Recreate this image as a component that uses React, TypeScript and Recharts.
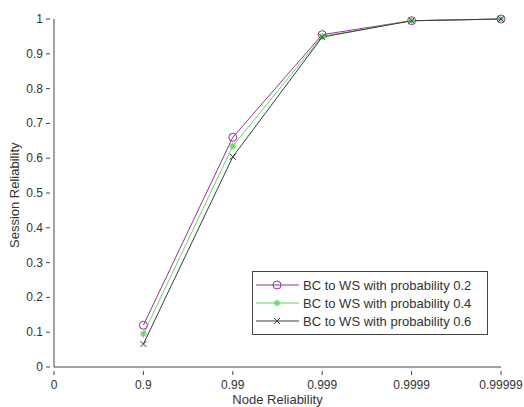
import React from 'react'
import { LineChart, Line, XAxis, YAxis } from 'recharts'

const xLabels = ['0', '0.9', '0.99', '0.999', '0.9999', '0.99999']
const xIndex = [1, 2, 3, 4, 5]
const prob02 = [0.12, 0.66, 0.955, 0.995, 1.0]
const prob04 = [0.095, 0.635, 0.95, 0.995, 1.0]
const prob06 = [0.066, 0.604, 0.948, 0.995, 1.0]
const yTicks = [0, 0.1, 0.2, 0.3, 0.4, 0.5, 0.6, 0.7, 0.8, 0.9, 1]

const data = xIndex.map((x, i) => ({ x, p02: prob02[i], p04: prob04[i], p06: prob06[i] }))

const font = '"Liberation Sans", Arial, sans-serif'
const textColor = '#333'
const C1 = '#9b2f95'
const C2 = '#5fd85f'
const C3 = '#3a3a48'

const CircleDot = (props: any) => {
  const { cx, cy } = props
  if (cx == null || cy == null) return null
  return <circle cx={cx} cy={cy} r={4} fill="none" stroke={C1} strokeWidth={1} />
}

const StarDot = (props: any) => {
  const { cx, cy } = props
  if (cx == null || cy == null) return null
  const r = 3.5
  return (
    <g stroke={C2} strokeWidth={1.2}>
      <line x1={cx - r} y1={cy} x2={cx + r} y2={cy} />
      <line x1={cx} y1={cy - r} x2={cx} y2={cy + r} />
      <line x1={cx - r * 0.7} y1={cy - r * 0.7} x2={cx + r * 0.7} y2={cy + r * 0.7} />
      <line x1={cx - r * 0.7} y1={cy + r * 0.7} x2={cx + r * 0.7} y2={cy - r * 0.7} />
    </g>
  )
}

const CrossDot = (props: any) => {
  const { cx, cy } = props
  if (cx == null || cy == null) return null
  const r = 3
  return (
    <g stroke={C3} strokeWidth={1}>
      <line x1={cx - r} y1={cy - r} x2={cx + r} y2={cy + r} />
      <line x1={cx - r} y1={cy + r} x2={cx + r} y2={cy - r} />
    </g>
  )
}

// MATLAB style ticks point inward
const XTick = (props: any) => {
  const { x, y, payload } = props
  return (
    <g>
      <line x1={x} y1={y} x2={x} y2={y - 4} stroke="#444" />
      <text x={x} y={y + 14} textAnchor="middle" fontSize={12} fill={textColor} fontFamily={font}>
        {xLabels[payload.value]}
      </text>
    </g>
  )
}

const YTick = (props: any) => {
  const { x, y, payload } = props
  return (
    <g>
      <line x1={x} y1={y} x2={x + 4} y2={y} stroke="#444" />
      <text x={x - 3} y={y + 4} textAnchor="end" fontSize={12} fill={textColor} fontFamily={font}>
        {payload.value}
      </text>
    </g>
  )
}

const legendItems = [
  { label: 'BC to WS with probability 0.2', color: C1, marker: 'circle' },
  { label: 'BC to WS with probability 0.4', color: C2, marker: 'star' },
  { label: 'BC to WS with probability 0.6', color: C3, marker: 'cross' },
]

const LegendBox = () => (
  <div
    style={{
      position: 'absolute',
      left: 252,
      top: 271,
      border: '1px solid #444',
      background: '#fff',
      width: 234,
      padding: '4px 0 4px 0',
      fontFamily: font,
      fontSize: 13,
      color: textColor,
    }}
  >
    {legendItems.map((it) => (
      <div key={it.label} style={{ display: 'flex', alignItems: 'center', height: 18 }}>
        <svg width={48} height={12} style={{ marginRight: 2 }}>
          <line x1={3} y1={6} x2={46} y2={6} stroke={it.color} strokeWidth={1} />
          {it.marker === 'circle' && <CircleDot cx={24} cy={6} />}
          {it.marker === 'star' && <StarDot cx={24} cy={6} />}
          {it.marker === 'cross' && <CrossDot cx={24} cy={6} />}
        </svg>
        <span>{it.label}</span>
      </div>
    ))}
  </div>
)

export default function App() {
  return (
    <div style={{ position: 'absolute', left: 0, top: 0, width: 524, height: 407, background: '#fff' }}>
      <LineChart width={524} height={407} data={data} margin={{ top: 19, right: 23, left: 0, bottom: 0 }}>
        <XAxis
          dataKey="x"
          type="number"
          domain={[0, 5]}
          ticks={[0, 1, 2, 3, 4, 5]}
          height={40}
          stroke="#444"
          tickLine={false}
          tick={<XTick />}
          label={{ value: 'Node Reliability', position: 'insideBottom', offset: 3, fontSize: 13, fill: textColor, fontFamily: font }}
        />
        <YAxis
          type="number"
          domain={[0, 1]}
          ticks={yTicks}
          width={54}
          stroke="#444"
          tickLine={false}
          tick={<YTick />}
          label={{ value: 'Session Reliability', angle: -90, position: 'insideLeft', offset: 14, dy: 55, fontSize: 13, fill: textColor, fontFamily: font }}
        />
        <Line dataKey="p02" stroke={C1} strokeWidth={1} dot={<CircleDot />} isAnimationActive={false} />
        <Line dataKey="p04" stroke={C2} strokeWidth={1} dot={<StarDot />} isAnimationActive={false} />
        <Line dataKey="p06" stroke={C3} strokeWidth={1} dot={<CrossDot />} isAnimationActive={false} />
      </LineChart>
      <LegendBox />
    </div>
  )
}
